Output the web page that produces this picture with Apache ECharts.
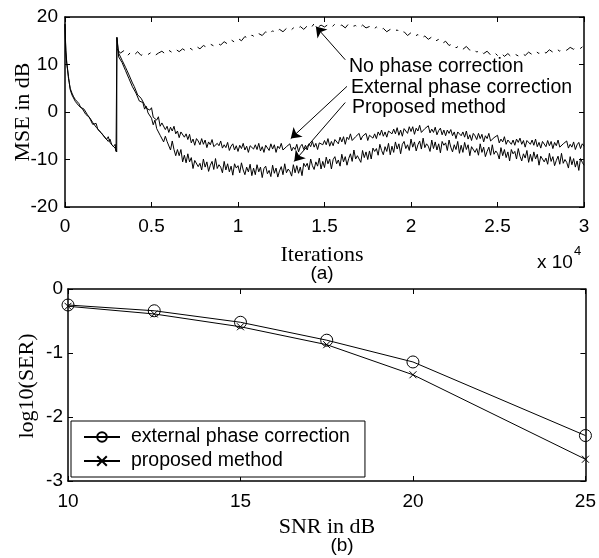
<!DOCTYPE html>
<html><head><meta charset="utf-8">
<script src="https://cdn.jsdelivr.net/npm/echarts@6/dist/echarts.min.js"></script>
<style>html,body{margin:0;padding:0;background:#fff}#c{width:599px;height:558px}</style>
</head><body><div id="c"></div>
<script>
// ---------- (a) MSE vs iterations ----------
const earlyIter = [0,20,50,100,150,200,250,300,400,500,600,700,800,900,1000,1100,1200,1300,1400,1500,1600,1700,1800,1900,2000,2100,2200,2300,2400,2500,2600,2700,2800,2900,2950,2990];
const earlyMseExt = [18.5,16,13,10.5,9,7.5,6,5,4,3.2,2.6,2.2,1.8,1.0,1.4,0.6,0.0,-0.6,-0.2,-1.6,-2.2,-1.8,-3.2,-2.8,-4.0,-3.6,-4.9,-4.5,-5.8,-5.2,-6.4,-6.0,-7.3,-6.8,-8.3,-7.9];
const earlyMseProp = [18.5,15.5,12.6,10.2,8.8,7.1,6.2,4.7,3.6,3.5,2.2,2.5,1.3,1.5,0.7,0.9,-0.5,-0.2,-1.1,-1.0,-2.6,-2.5,-2.4,-3.7,-3.4,-4.4,-4.2,-5.3,-5.1,-6.2,-5.7,-6.9,-6.5,-7.6,-7.9,-8.4];
const LATE_START = 3000, LATE_STEP = 100;
const extLate = [
15.7,12.4,12.3,10.9,10.8,9.4,9.2,7.8,7.5,6.1,
5.4,5.4,3.6,3.9,2.9,3.1,1.5,0.8,1.1,0.4,
0.9,-1.1,-0.7,-1.7,-1.0,-3.0,-2.3,-2.1,-3.7,-3.0,
-4.3,-3.2,-4.0,-3.0,-4.6,-4.0,-5.4,-4.2,-4.0,-5.3,
-4.6,-5.8,-4.7,-6.5,-5.7,-7.0,-5.6,-6.1,-6.9,-5.6,
-6.8,-5.9,-7.5,-6.3,-6.9,-5.8,-7.3,-7.7,-6.6,-7.1,
-6.1,-7.6,-6.9,-7.5,-6.4,-8.1,-7.2,-6.7,-8.0,-7.1,
-8.3,-7.0,-7.7,-6.6,-8.0,-7.2,-8.5,-7.1,-6.7,-7.8,
-6.9,-7.9,-6.6,-8.2,-7.3,-8.5,-7.0,-7.4,-8.1,-6.7,
-7.8,-6.9,-8.5,-7.2,-7.7,-6.6,-8.0,-8.4,-7.3,-7.6,
-6.7,-8.2,-7.4,-7.9,-6.8,-8.4,-7.3,-6.8,-7.9,-7.0,
-8.0,-6.7,-7.3,-6.2,-7.4,-6.6,-7.9,-6.5,-6.1,-6.9,
-6.0,-6.9,-5.6,-7.2,-6.2,-7.1,-5.8,-6.2,-6.7,-5.3,
-6.3,-5.2,-6.8,-5.3,-5.8,-4.6,-6.0,-6.2,-5.2,-5.6,
-4.5,-5.9,-5.1,-5.2,-4.5,-6.0,-4.9,-4.5,-5.5,-4.6,
-5.6,-4.2,-4.9,-3.8,-5.1,-4.2,-5.3,-4.0,-3.6,-4.6,
-3.6,-4.6,-3.3,-4.9,-3.8,-5.1,-3.5,-3.8,-4.5,-3.1,
-4.1,-3.1,-4.7,-3.4,-4.0,-2.8,-4.3,-4.6,-3.5,-3.9,
-2.9,-4.4,-3.6,-4.3,-3.2,-4.8,-3.9,-3.4,-4.8,-3.8,
-5.0,-3.8,-4.5,-3.7,-5.0,-4.2,-5.6,-4.2,-3.9,-5.0,
-4.2,-5.3,-4.0,-5.7,-4.8,-6.0,-4.5,-5.0,-5.8,-4.5,
-5.6,-4.7,-6.3,-5.0,-5.6,-4.5,-6.1,-6.5,-5.4,-5.8,
-4.9,-6.5,-5.7,-6.3,-5.2,-6.8,-5.9,-5.5,-6.8,-5.9,
-7.0,-5.7,-6.4,-5.5,-6.8,-6.0,-7.4,-6.0,-5.6,-6.8,
-5.9,-7.0,-5.7,-7.3,-6.4,-7.6,-6.2,-6.6,-7.3,-6.0,
-7.1,-6.2,-7.7,-6.4,-7.1,-5.9,-7.4,-7.8,-6.7,-7.1,
-6.1,-7.6,-6.8,-7.4,-6.3,-7.9,-6.9,-6.4,-7.7,-6.7,
-7.2];
const propLate = [
15.7,11.6,11.7,10.4,10.2,8.7,8.5,7.0,6.7,5.3,
5.6,4.0,3.9,2.3,2.4,2.0,0.6,1.2,-0.2,-0.4,
-1.3,-2.7,-1.7,-3.5,-3.1,-4.9,-4.5,-6.3,-5.1,-6.2,
-6.1,-8.0,-6.1,-7.9,-9.2,-7.9,-9.2,-7.9,-10.5,-9.1,
-10.7,-8.8,-10.5,-9.6,-11.9,-10.2,-9.8,-11.5,-10.8,-12.2,
-9.9,-11.6,-10.5,-12.5,-11.2,-10.4,-12.1,-9.8,-11.9,-11.1,
-11.6,-12.8,-10.4,-12.2,-10.9,-12.6,-11.4,-13.3,-10.9,-11.8,
-11.3,-12.8,-10.7,-12.2,-13.2,-11.6,-12.6,-11.0,-13.4,-11.8,
-13.2,-11.1,-12.6,-11.6,-13.8,-11.9,-11.4,-13.0,-12.3,-13.6,
-11.2,-12.9,-11.8,-13.7,-12.4,-11.5,-13.2,-10.9,-12.8,-12.0,
-12.5,-13.5,-11.1,-12.8,-11.3,-12.9,-11.6,-13.4,-10.8,-11.5,
-10.8,-12.2,-9.9,-11.3,-12.1,-10.5,-11.4,-9.7,-12.0,-10.4,
-11.7,-9.5,-10.9,-9.9,-12.0,-10.0,-9.4,-10.9,-10.1,-11.4,
-8.9,-10.5,-9.4,-11.2,-9.8,-8.8,-10.4,-8.0,-9.9,-9.2,
-9.6,-10.6,-8.1,-9.6,-8.4,-10.0,-8.2,-9.9,-7.6,-8.3,
-7.7,-9.1,-6.8,-8.1,-9.0,-7.3,-8.3,-6.6,-9.0,-7.2,
-8.5,-6.3,-7.8,-6.7,-8.8,-6.8,-6.2,-7.7,-6.9,-8.1,
-5.7,-7.4,-6.3,-8.2,-6.9,-6.1,-7.8,-5.5,-7.5,-6.7,
-7.2,-8.3,-5.9,-7.7,-6.3,-8.0,-6.7,-8.6,-6.2,-7.0,
-6.5,-8.1,-5.9,-7.4,-8.4,-6.9,-7.9,-6.2,-8.7,-7.0,
-8.5,-6.4,-7.9,-6.9,-9.2,-7.3,-6.9,-8.5,-7.7,-9.1,
-6.7,-8.5,-7.4,-9.4,-8.3,-7.4,-9.1,-6.9,-8.9,-8.2,
-8.7,-9.9,-7.5,-9.2,-7.9,-9.6,-8.4,-10.3,-7.9,-8.8,
-8.3,-9.9,-7.7,-9.3,-10.3,-8.8,-9.7,-8.1,-10.6,-8.9,
-10.4,-8.4,-9.9,-8.9,-11.2,-9.3,-8.9,-10.5,-9.7,-11.0,
-8.7,-10.4,-9.4,-11.3,-10.2,-9.3,-11.0,-8.7,-10.8,-10.0,
-10.6,-11.8,-9.4,-11.1,-9.8,-11.6,-10.3,-12.3,-9.8,-10.6,
-11.2];
const NOPHASE_STEP = 200;
const noPhaseLate = [
13.3,12.4,12.9,11.8,12.6,12.0,12.7,11.9,12.5,12.1,
12.6,11.9,12.4,12.8,12.2,13.0,12.5,13.2,12.7,13.3,
12.8,13.5,13.0,13.8,13.3,14.0,13.6,14.3,13.9,14.5,
14.1,14.8,14.3,15.2,14.7,15.5,15.0,15.9,15.4,16.2,
15.7,16.5,16.1,16.9,16.3,17.1,16.6,17.4,16.9,17.6,
17.0,17.7,17.3,18.0,17.4,18.1,17.6,18.6,17.8,18.3,
17.9,18.4,17.8,18.5,18.0,18.3,17.7,18.6,18.0,18.2,
17.6,18.3,17.7,18.0,17.3,17.9,17.2,17.6,16.9,17.4,
16.8,17.3,16.5,16.9,16.1,16.7,15.9,16.3,15.5,16.0,
15.3,15.8,14.9,15.3,14.4,14.9,14.0,14.4,13.5,14.0,
13.2,13.8,13.0,13.4,12.6,13.1,12.3,12.8,12.0,12.6,
11.9,12.5,11.7,12.3,11.6,12.2,11.8,12.4,11.9,12.6,
12.1,12.8,12.3,12.9,12.4,13.1,12.6,13.3,12.8,13.4,
13.0,13.6,13.2,13.8,13.4,14.0];
// annotation arrows: [fromIter, fromMse, toIter, toMse]
const arrowNoPhase = [16200, 11.0, 14500, 18.0];
const arrowExt = [16300, 5.4, 13050, -5.6];
const arrowProp = [16200, 2.0, 13250, -10.4];
const annoLabels = ['No phase correction','External phase correction','Proposed method'];

// ---------- (b) SER vs SNR ----------
const snr = [10, 12.5, 15, 17.5, 20, 25];
const serExt = [-0.25, -0.34, -0.52, -0.80, -1.14, -2.29];
const serProp = [-0.27, -0.39, -0.59, -0.87, -1.34, -2.66];

const lateData = (arr, step) => arr.map((v, i) => [LATE_START + i * step, v]);
const earlyData = vals => earlyIter.map((x, i) => [x, vals[i]]);

const SANS = '"Liberation Sans", Arial, sans-serif';
const SERIF = '"Liberation Serif", "Times New Roman", serif';
const axLine = {show: true, onZero: false, lineStyle: {color: '#000', width: 1.5}};
const tick = {show: true, inside: true, length: 5, lineStyle: {color: '#000', width: 1}};
const lbl = (extra) => Object.assign({color: '#000', fontSize: 19, fontFamily: SANS}, extra);

const chart = echarts.init(document.getElementById('c'), null, {renderer: 'canvas'});
const arrowSeg = a => [{coord: [a[0], a[1]]}, {coord: [a[2], a[3]]}];

chart.setOption({
  animation: false,
  backgroundColor: '#fff',
  grid: [
    {left: 65, top: 17, width: 519, height: 190},
    {left: 68, top: 289, width: 519, height: 192}
  ],
  xAxis: [
    {gridIndex: 0, type: 'value', min: 0, max: 30000, interval: 5000, position: 'bottom',
     axisLine: axLine, axisTick: tick, splitLine: {show: false},
     axisLabel: lbl({margin: 10, formatter: v => String(v / 10000)})},
    {gridIndex: 0, type: 'value', min: 0, max: 30000, interval: 5000, position: 'top',
     axisLine: axLine, axisTick: tick, splitLine: {show: false}, axisLabel: {show: false}},
    {gridIndex: 1, type: 'value', min: 10, max: 25, interval: 5, position: 'bottom',
     axisLine: axLine, axisTick: tick, splitLine: {show: false}, axisLabel: lbl({margin: 11})},
    {gridIndex: 1, type: 'value', min: 10, max: 25, interval: 5, position: 'top',
     axisLine: axLine, axisTick: tick, splitLine: {show: false}, axisLabel: {show: false}}
  ],
  yAxis: [
    {gridIndex: 0, type: 'value', min: -20, max: 20, interval: 10, position: 'left',
     axisLine: axLine, axisTick: tick, splitLine: {show: false}, axisLabel: lbl({margin: 7})},
    {gridIndex: 0, type: 'value', min: -20, max: 20, interval: 10, position: 'right',
     axisLine: axLine, axisTick: tick, splitLine: {show: false}, axisLabel: {show: false}},
    {gridIndex: 1, type: 'value', min: -3, max: 0, interval: 1, position: 'left',
     axisLine: axLine, axisTick: tick, splitLine: {show: false}, axisLabel: lbl({margin: 5})},
    {gridIndex: 1, type: 'value', min: -3, max: 0, interval: 1, position: 'right',
     axisLine: axLine, axisTick: tick, splitLine: {show: false}, axisLabel: {show: false}}
  ],
  legend: {
    data: ['external phase correction', 'proposed method'],
    orient: 'vertical', left: 71, top: 421,
    itemWidth: 36, itemHeight: 12, itemGap: 4,
    padding: [6, 15, 6, 12],
    borderColor: '#000', borderWidth: 1, backgroundColor: '#fff',
    selectedMode: false,
    textStyle: {color: '#000', fontSize: 19.5, fontFamily: SANS, padding: [0, 0, 0, 6]}
  },
  series: [
    {name: annoLabels[0], type: 'line', xAxisIndex: 0, yAxisIndex: 0,
     data: lateData(noPhaseLate, NOPHASE_STEP), showSymbol: false, silent: true,
     lineStyle: {color: '#000', width: 1, type: [10, 7, 3, 7]}},
    {name: annoLabels[1], type: 'line', xAxisIndex: 0, yAxisIndex: 0,
     data: earlyData(earlyMseExt).concat(lateData(extLate, LATE_STEP)), showSymbol: false, silent: true,
     lineStyle: {color: '#000', width: 1},
     markLine: {silent: true, symbol: ['none', 'arrow'], symbolSize: 10,
       label: {show: false}, lineStyle: {color: '#000', width: 1, type: 'solid'},
       emphasis: {disabled: true},
       data: [arrowSeg(arrowNoPhase), arrowSeg(arrowExt), arrowSeg(arrowProp)]}},
    {name: 'proposed top', type: 'line', xAxisIndex: 0, yAxisIndex: 0,
     data: earlyData(earlyMseProp).concat(lateData(propLate, LATE_STEP)), showSymbol: false, silent: true,
     lineStyle: {color: '#000', width: 1}},
    {name: 'external phase correction', type: 'line', xAxisIndex: 2, yAxisIndex: 2,
     data: snr.map((x, i) => [x, serExt[i]]),
     symbol: 'circle', symbolSize: 12,
     itemStyle: {color: 'rgba(0,0,0,0)', borderColor: '#000', borderWidth: 1},
     lineStyle: {color: '#000', width: 1}},
    {name: 'proposed method', type: 'line', xAxisIndex: 2, yAxisIndex: 2,
     data: snr.map((x, i) => [x, serProp[i]]),
     symbol: 'path://M0,0L10,10M10,0L0,10', symbolSize: 7,
     itemStyle: {color: 'rgba(0,0,0,0)', borderColor: '#000', borderWidth: 1},
     lineStyle: {color: '#000', width: 1}}
  ],
  graphic: [
    {type: 'text', x: 23, y: 112, rotation: Math.PI / 2,
     style: {text: 'MSE in dB', font: '22px ' + SERIF, fill: '#000', align: 'center', verticalAlign: 'middle'}},
    {type: 'text', x: 322, y: 255,
     style: {text: 'Iterations', font: '22px ' + SERIF, fill: '#000', align: 'center', verticalAlign: 'middle'}},
    {type: 'text', x: 322, y: 274,
     style: {text: '(a)', font: '19px ' + SANS, fill: '#000', align: 'center', verticalAlign: 'middle'}},
    {type: 'text', x: 537, y: 263,
     style: {text: 'x 10', font: '19px ' + SANS, fill: '#000', align: 'left', verticalAlign: 'middle'}},
    {type: 'text', x: 574, y: 251,
     style: {text: '4', font: '13px ' + SANS, fill: '#000', align: 'left', verticalAlign: 'middle'}},
    {type: 'text', x: 349, y: 67,
     style: {text: annoLabels[0], font: '19.5px ' + SANS, fill: '#000', align: 'left', verticalAlign: 'middle'}},
    {type: 'text', x: 351, y: 88,
     style: {text: annoLabels[1], font: '19.5px ' + SANS, fill: '#000', align: 'left', verticalAlign: 'middle'}},
    {type: 'text', x: 352, y: 108,
     style: {text: annoLabels[2], font: '19.5px ' + SANS, fill: '#000', align: 'left', verticalAlign: 'middle'}},
    {type: 'text', x: 27, y: 386, rotation: Math.PI / 2,
     style: {text: 'log10(SER)', font: '22px ' + SERIF, fill: '#000', align: 'center', verticalAlign: 'middle'}},
    {type: 'text', x: 327, y: 527,
     style: {text: 'SNR in dB', font: '22px ' + SERIF, fill: '#000', align: 'center', verticalAlign: 'middle'}},
    {type: 'text', x: 342, y: 546,
     style: {text: '(b)', font: '19px ' + SANS, fill: '#000', align: 'center', verticalAlign: 'middle'}}
  ]
});
</script>
</body></html>
